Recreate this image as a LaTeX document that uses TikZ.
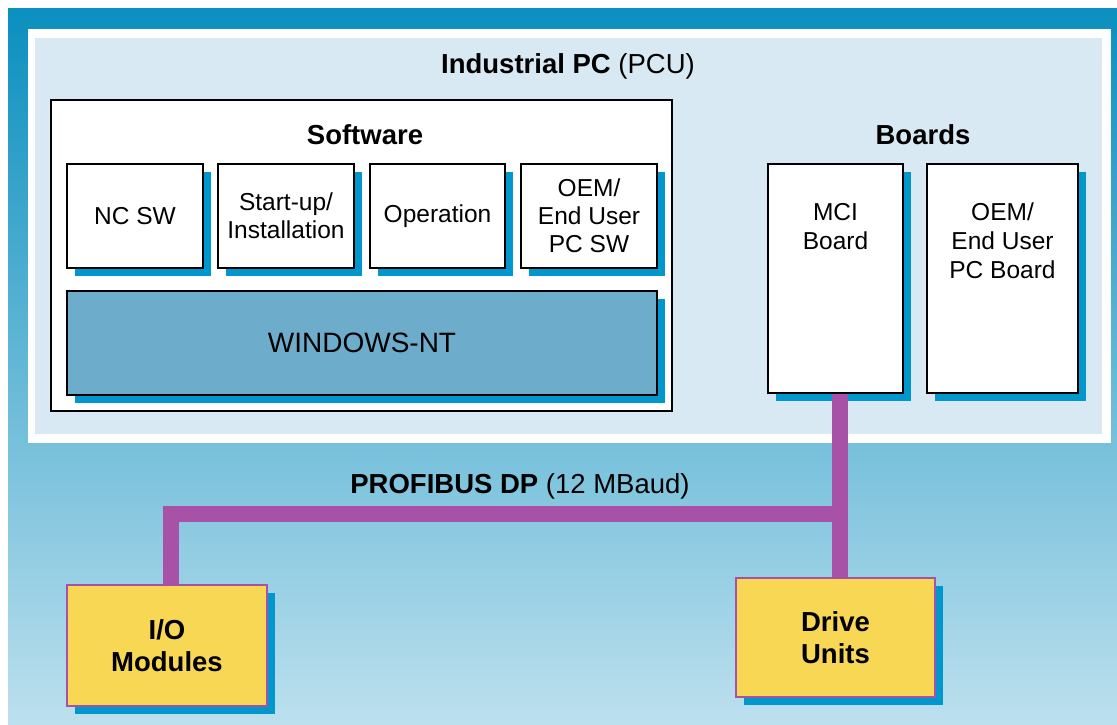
\documentclass[tikz,border=0pt]{standalone}
\usepackage{fontspec}
\setmainfont{Liberation Sans}
\usetikzlibrary{shadows}
\definecolor{topblue}{HTML}{0A8FBE}
\definecolor{midblue}{HTML}{8AC5DE}
\definecolor{botblue}{HTML}{BDE0EE}
\definecolor{paleblue}{HTML}{D8E9F3}
\definecolor{shblue}{HTML}{0098CC}
\definecolor{ntblue}{HTML}{6EACCB}
\definecolor{buspurple}{HTML}{A752A6}
\definecolor{ioyellow}{HTML}{F8D755}
\begin{document}
\begin{tikzpicture}[x=1pt, y=-1pt,
	frame/.style={draw=black, line width=1.6pt, fill=white, inner sep=0pt, align=center,
		font=\fontsize{24.5}{28}\selectfont},
	box/.style={frame,
		drop shadow={shadow xshift=8pt, shadow yshift=-8pt, fill=shblue, opacity=1}},
	iobox/.style={box, draw=buspurple, line width=1.2pt, fill=ioyellow,
		font=\fontsize{27.5}{32}\selectfont\bfseries},
	title/.style={font=\fontsize{27.5}{32}\selectfont\bfseries},
	bus/.style={draw=buspurple, line width=16pt}]
	\useasboundingbox (0,0) rectangle (1117,724);
	\shade[top color=topblue, middle color=midblue, bottom color=botblue] (8,8) rectangle (1117,724);
	\fill[white] (28,29) rectangle (1111,443);
	\fill[paleblue] (35,38) rectangle (1102,434);
	
	\coordinate (tl) at (171,514);
	\coordinate (tr) at (840,514);
	
	\node[title] (pcu) at (568,66) {Industrial PC \mdseries(PCU)};
	
	\node[frame, minimum width=621pt, minimum height=311pt] (sw) at (361.5,255.5) {};
	\node[title] (swtitle) at (365,135) {Software};
	\node[box, minimum width=136pt, minimum height=104pt] (ncsw) at (135,216) {NC SW};
	\node[box, minimum width=136pt, minimum height=104pt] (startup) at (286,216) {Start-up/\\Installation};
	\node[box, minimum width=135pt, minimum height=104pt] (oper) at (437.5,216) {Operation};
	\node[box, minimum width=136pt, minimum height=104pt] (oemsw) at (589,216) {OEM/\\End User\\PC SW};
	\node[box, fill=ntblue, minimum width=590pt, minimum height=104pt, font=\fontsize{28}{32}\selectfont] (winnt) at (362,343) {WINDOWS-NT};
	
	\node[title] (bdtitle) at (923,135) {Boards};
	\node[box, minimum width=135pt, minimum height=229pt] (mci) at (835.5,278.5) {};
	\node[align=center, font=\fontsize{24.5}{29}\selectfont] (mcitxt) at (835.5,227) {MCI\\Board};
	\node[box, minimum width=151pt, minimum height=229pt] (oembd) at (1002.5,278.5) {};
	\node[align=center, font=\fontsize{24.5}{29}\selectfont] (oembdtxt) at (1002.5,241) {OEM/\\End User\\PC Board};
	
	\draw[bus] (mci.south -| tr) -- (tr |- 0,586);
	\draw[bus] (tr) -- (tl) -- (tl |- 0,590);
	\node[font=\fontsize{27.5}{32}\selectfont] (dp) at (520,486) {\textbf{PROFIBUS DP} (12 MBaud)};
	
	\node[iobox, minimum width=200pt, minimum height=121pt] (io) at (167,645.5) {I/O\\Modules};
	\node[iobox, minimum width=199pt, minimum height=119pt] (drive) at (835.5,637.5) {Drive\\Units};
\end{tikzpicture}
\end{document}
